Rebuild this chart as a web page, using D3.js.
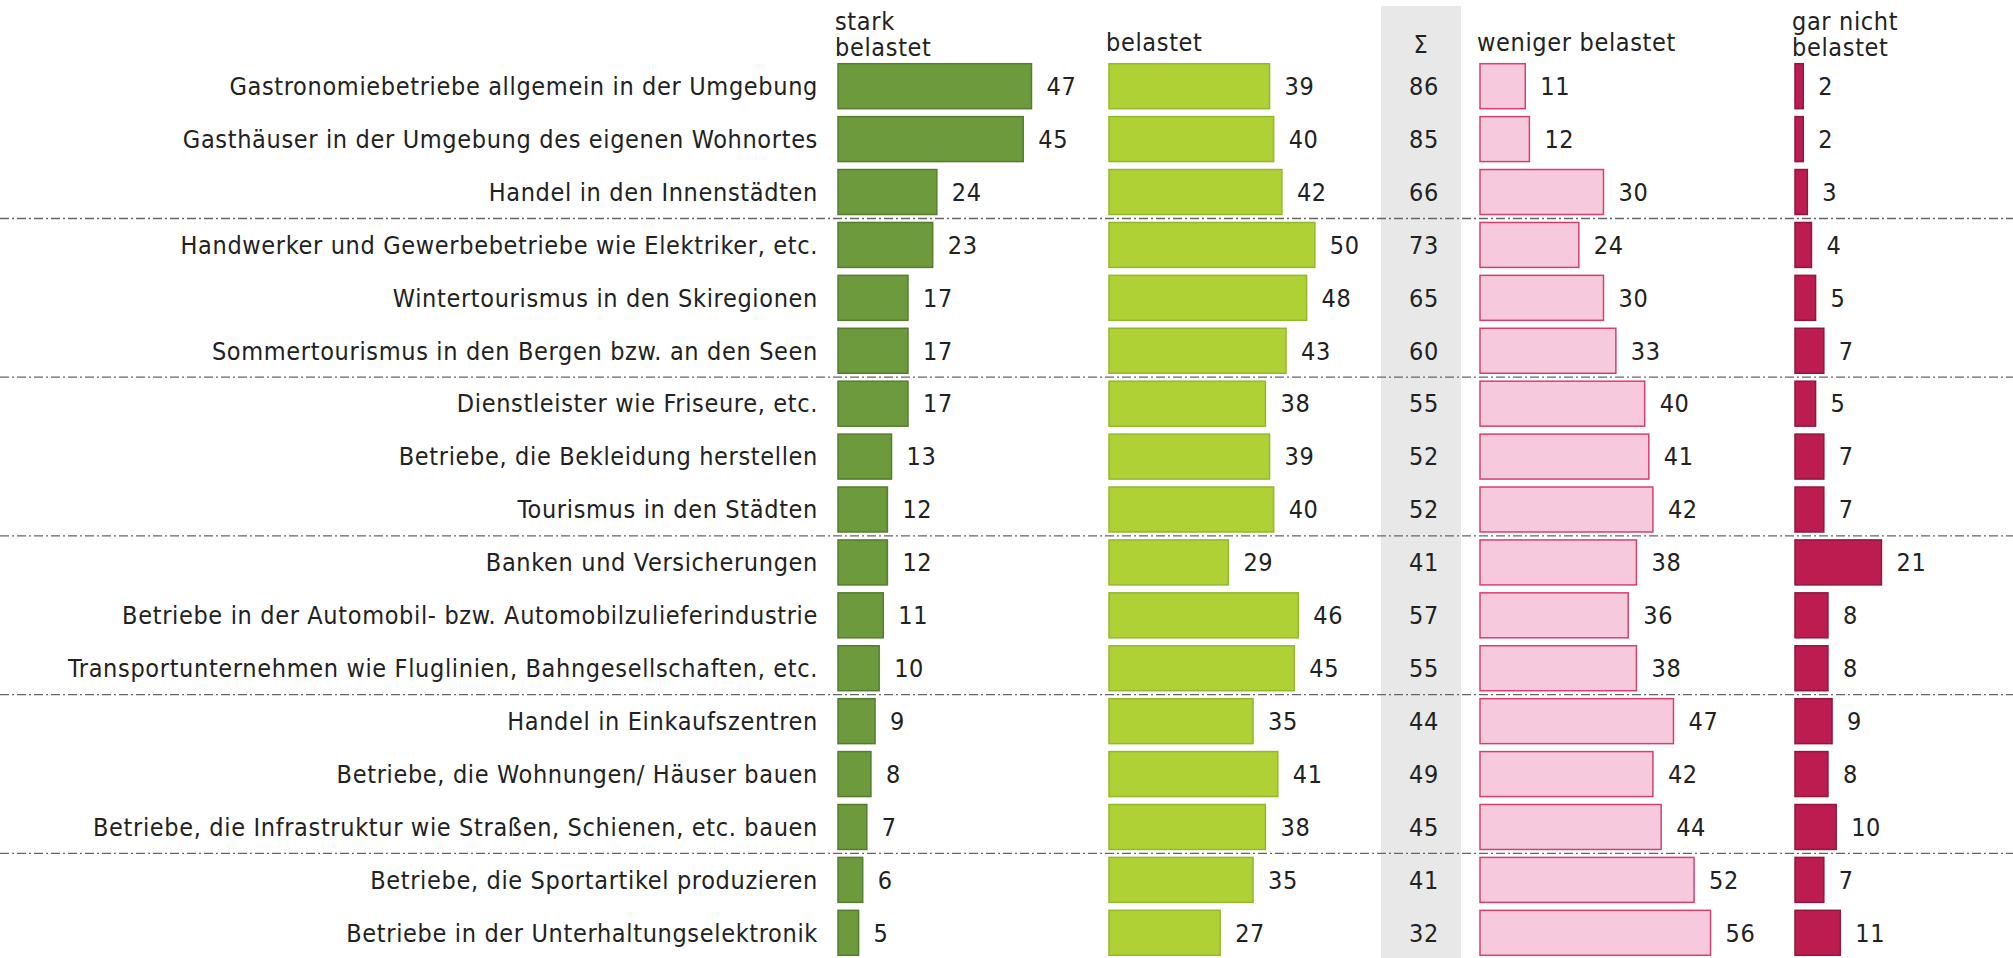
<html>
<head>
<meta charset="utf-8">
<style>
body { margin: 0; background: #fff; }
svg text { font-family: "DejaVu Sans Condensed", "DejaVu Sans", sans-serif; font-size: 25px; letter-spacing: 0.65px; fill: #222; }
</style>
<script src="https://d3js.org/d3.v7.min.js"></script>
</head>
<body>
<svg width="2013" height="958"></svg>
<script>
var categories = [
  "Gastronomiebetriebe allgemein in der Umgebung",
  "Gasthäuser in der Umgebung des eigenen Wohnortes",
  "Handel in den Innenstädten",
  "Handwerker und Gewerbebetriebe wie Elektriker, etc.",
  "Wintertourismus in den Skiregionen",
  "Sommertourismus in den Bergen bzw. an den Seen",
  "Dienstleister wie Friseure, etc.",
  "Betriebe, die Bekleidung herstellen",
  "Tourismus in den Städten",
  "Banken und Versicherungen",
  "Betriebe in der Automobil- bzw. Automobilzulieferindustrie",
  "Transportunternehmen wie Fluglinien, Bahngesellschaften, etc.",
  "Handel in Einkaufszentren",
  "Betriebe, die Wohnungen/ Häuser bauen",
  "Betriebe, die Infrastruktur wie Straßen, Schienen, etc. bauen",
  "Betriebe, die Sportartikel produzieren",
  "Betriebe in der Unterhaltungselektronik"
];
var stark   = [47, 45, 24, 23, 17, 17, 17, 13, 12, 12, 11, 10, 9, 8, 7, 6, 5];
var belastet = [39, 40, 42, 50, 48, 43, 38, 39, 40, 29, 46, 45, 35, 41, 38, 35, 27];
var summe   = [86, 85, 66, 73, 65, 60, 55, 52, 52, 41, 57, 55, 44, 49, 45, 41, 32];
var weniger = [11, 12, 30, 24, 30, 33, 40, 41, 42, 38, 36, 38, 47, 42, 44, 52, 56];
var garNicht = [2, 2, 3, 4, 5, 7, 5, 7, 7, 21, 8, 8, 9, 8, 10, 7, 11];
var groupBreaks = [3, 6, 9, 12, 15];

var svg = d3.select("svg"),
    width = +svg.attr("width"),
    height = +svg.attr("height");

var y = d3.scaleBand()
    .domain(categories)
    .range([60, 959])
    .paddingInner(0.15)
    .paddingOuter(0.07);

var x = d3.scaleLinear().domain([0, 60]).range([0, 247]);

var cols = [
  { name: ["stark", "belastet"], values: stark, x0: 838, fill: "#6e9a3e", stroke: "#557d2c" },
  { name: ["belastet"], values: belastet, x0: 1109, fill: "#b0d136", stroke: "#93b82a" },
  { name: ["weniger belastet"], values: weniger, x0: 1480, fill: "#f7c9dc", stroke: "#d6406f" },
  { name: ["gar nicht", "belastet"], values: garNicht, x0: 1795, fill: "#bd1c50", stroke: "#8f1740" }
];

// grey band for the sum column
svg.append("rect")
   .attr("x", 1381).attr("y", 6)
   .attr("width", 80).attr("height", height - 6)
   .attr("fill", "#e8e8e8");

// category labels
svg.append("g").selectAll("text")
   .data(categories)
   .enter().append("text")
   .attr("x", 818)
   .attr("y", function(d) { return y(d) + y.bandwidth() / 2; })
   .attr("dy", "0.35em")
   .attr("text-anchor", "end")
   .text(function(d) { return d; });

cols.forEach(function(c) {
  var g = svg.append("g");
  g.selectAll("rect")
   .data(c.values)
   .enter().append("rect")
   .attr("x", c.x0)
   .attr("y", function(d, i) { return y(categories[i]); })
   .attr("width", function(d) { return x(d); })
   .attr("height", y.bandwidth())
   .attr("fill", c.fill)
   .attr("stroke", c.stroke)
   .attr("stroke-width", 1.5);
  g.selectAll("text.val")
   .data(c.values)
   .enter().append("text")
   .attr("class", "val")
   .attr("x", function(d) { return c.x0 + x(d) + 15; })
   .attr("y", function(d, i) { return y(categories[i]) + y.bandwidth() / 2; })
   .attr("dy", "0.35em")
   .text(function(d) { return d; });
  var head = g.append("text").attr("x", c.x0 - 3);
  if (c.name.length == 2) {
    head.append("tspan").attr("x", c.x0 - 3).attr("y", 21).attr("dy", "0.35em").text(c.name[0]);
    head.append("tspan").attr("x", c.x0 - 3).attr("y", 47).attr("dy", "0.35em").text(c.name[1]);
  } else {
    head.attr("y", 42).attr("dy", "0.35em").text(c.name[0]);
  }
});

// sum column
svg.append("text")
   .attr("x", 1421).attr("y", 44).attr("dy", "0.35em")
   .attr("text-anchor", "middle")
   .text("Σ");
svg.append("g").selectAll("text")
   .data(summe)
   .enter().append("text")
   .attr("x", 1424)
   .attr("y", function(d, i) { return y(categories[i]) + y.bandwidth() / 2; })
   .attr("dy", "0.35em")
   .attr("text-anchor", "middle")
   .text(function(d) { return d; });

// dash-dot separators between groups
svg.append("g").selectAll("line")
   .data(groupBreaks)
   .enter().append("line")
   .attr("x1", 0).attr("x2", width)
   .attr("y1", function(b) { return (y(categories[b - 1]) + y.bandwidth() + y(categories[b])) / 2; })
   .attr("y2", function(b) { return (y(categories[b - 1]) + y.bandwidth() + y(categories[b])) / 2; })
   .attr("stroke", "#666")
   .attr("stroke-width", 1.3)
   .attr("stroke-dasharray", "9,3,2,3");
</script>
</body>
</html>
